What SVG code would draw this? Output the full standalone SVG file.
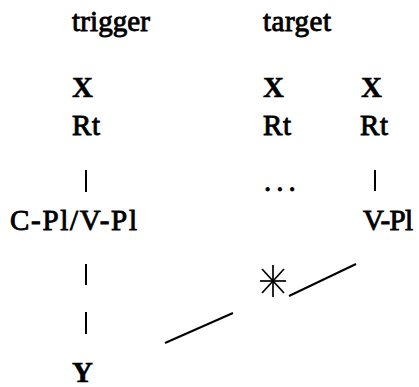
<svg xmlns="http://www.w3.org/2000/svg" width="419" height="387" viewBox="0 0 419 387">
  <style>
    text { font-family: 'Liberation Serif', 'Times New Roman', Times, serif; font-size: 29px; fill: #000; stroke: #000; stroke-width: 0.9; }
    .b { font-weight: bold; stroke-width: 0.5; }
    .ln { stroke: #000; stroke-width: 2; fill: none; stroke-linecap: butt; }
    .star { stroke: #000; stroke-width: 1.7; fill: none; }
  </style>
  <rect width="419" height="387" fill="#fff"/>

  <!-- column headings -->
  <g id="heading-trigger"><text x="72" y="31" textLength="78">trigger</text></g>
  <g id="heading-target"><text x="263" y="31" textLength="68">target</text></g>

  <!-- trigger column -->
  <g id="trigger-x"><text class="b" x="72" y="97">X</text></g>
  <g id="trigger-rt"><text x="72" y="135" textLength="28">Rt</text></g>
  <g id="trigger-pl"><text x="10" y="230" textLength="127">C-Pl/V-Pl</text></g>
  <g id="trigger-y"><text class="b" x="72" y="382">Y</text></g>

  <!-- first target column -->
  <g id="target-x"><text class="b" x="263" y="97">X</text></g>
  <g id="target-rt"><text x="263" y="135" textLength="28">Rt</text></g>
  <g id="target-dots"><text x="264" y="191" letter-spacing="5">...</text></g>
  <g id="target-star">
    <line class="star" x1="273" y1="265" x2="273" y2="297"/>
    <line class="star" x1="260" y1="281" x2="286" y2="281"/>
    <line class="star" x1="262" y1="269" x2="284" y2="293"/>
    <line class="star" x1="284" y1="269" x2="262" y2="293"/>
  </g>

  <!-- second target column -->
  <g id="target2-x"><text class="b" x="361" y="97">X</text></g>
  <g id="target2-rt"><text x="360" y="135" textLength="28">Rt</text></g>
  <g id="target2-pl"><text x="363" y="230" textLength="50">V-Pl</text></g>

  <!-- links -->
  <g id="connectors">
    <line class="ln" x1="86" y1="170" x2="86" y2="192"/>
    <line class="ln" x1="86" y1="264" x2="86" y2="285"/>
    <line class="ln" x1="86" y1="312" x2="86" y2="334"/>
    <line class="ln" x1="375" y1="170" x2="375" y2="191"/>
    <line class="ln" x1="289" y1="296" x2="356" y2="264"/>
    <line class="ln" x1="165" y1="343" x2="233" y2="313"/>
  </g>
</svg>
